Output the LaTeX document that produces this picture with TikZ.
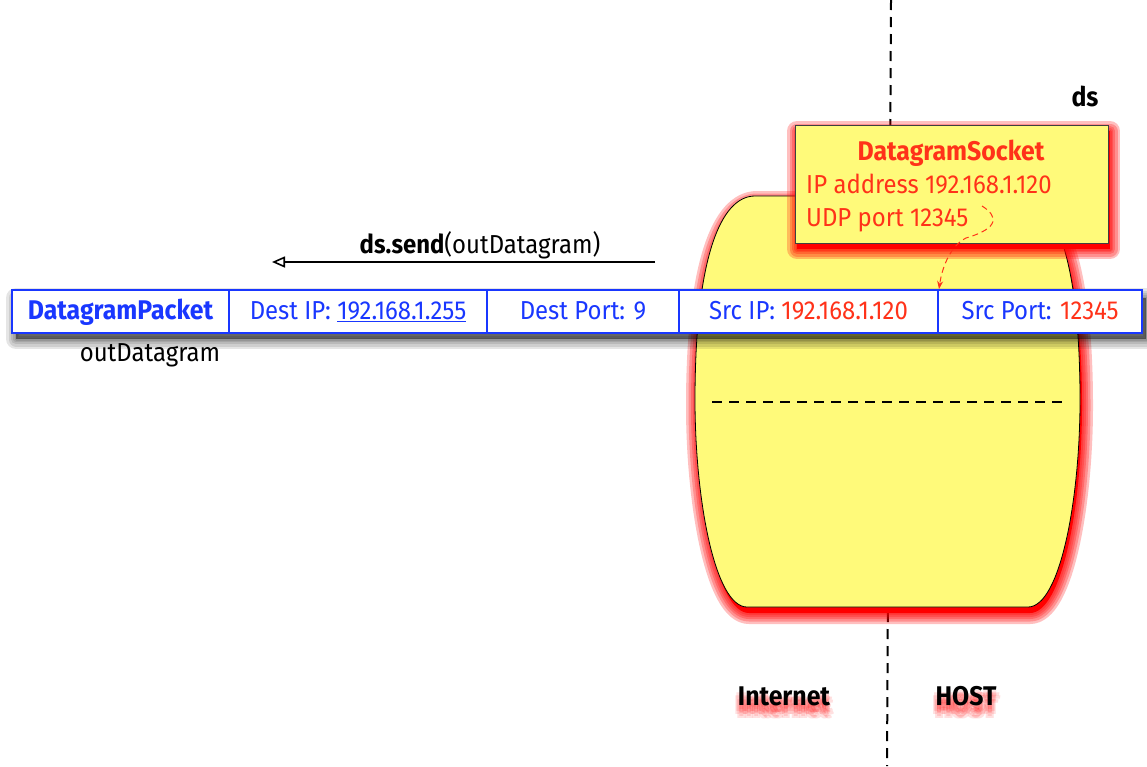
\documentclass[tikz,border=0pt]{standalone}
\usepackage{fontspec}
\setmainfont[FakeStretch=0.92]{Fira Sans}
\usetikzlibrary{arrows.meta}
\definecolor{shy}{RGB}{255,250,122}
\definecolor{sred}{RGB}{255,50,25}
\definecolor{pblue}{RGB}{25,55,255}
\def\barrel{(755,196) -- (1020,196) .. controls (1055,196) and (1080,260) .. (1080,400) .. controls (1080,500) and (1060,607) .. (1028,607) -- (747,607) .. controls (715,607) and (695,500) .. (695,400) .. controls (695,260) and (720,196) .. (755,196) -- cycle}
\tikzset{
  txt/.style={font=\fontsize{26}{30}\selectfont, inner sep=0pt},
  boldtxt/.style={font=\fontsize{27}{30}\selectfont\bfseries, inner sep=0pt},
  glowtxt/.style={boldtxt, text=red, opacity=0.12},
  cell/.style={draw=pblue, line width=2, fill=white, minimum height=43, text height=20, text depth=4, inner sep=0pt, font=\fontsize{26}{30}\selectfont, text=pblue},
}
\begin{document}
\begin{tikzpicture}[x=1pt,y=-1pt]
\useasboundingbox (0,0) rectangle (1147,766);
% divider
\coordinate (vtop) at (891,0);
\coordinate (vbot) at (887,766);
\draw[line width=2, dash pattern=on 10 off 7] (vtop) -- (vbot);
% barrel glow
\fill[red, shift={(2,6)}] \barrel;
\foreach \w in {22,17,12,8,4}
  \draw[red, line width=\w, opacity=0.25, line join=round, shift={(2,6)}] \barrel;
\draw[fill=shy, line width=0.8] \barrel;
\coordinate (hl) at (712,402);
\coordinate (hr) at (1065,402);
\draw[line width=1.6, dash pattern=on 10 off 7] (hl) -- (hr);
% socket box glow
\fill[red] (797,131) rectangle (1110,249);
\foreach \w in {20,15,10,6,3}
  \draw[red, line width=\w, opacity=0.25, line join=round] (797,131) rectangle (1110,249);
\node[draw=black!75, line width=0.8, fill=shy, minimum width=313, minimum height=118, inner sep=0pt] (sock) at (951.5,184) {};
\node[boldtxt, anchor=base, text=sred] (socktitle) at (951,160) {DatagramSocket};
\node[txt, anchor=base west, text=sred] (sockip) at (806,193) {IP address 192.168.1.120};
\node[txt, anchor=base west, text=sred] (sockport) at (806,226) {UDP port 12345};
\node[boldtxt, anchor=base] (ds) at (1085,106) {ds};
% packet shadow
\fill[black, opacity=0.45] (16,298) rectangle (1146,339);
\foreach \w in {20,15,10,6,3}
  \draw[black, line width=\w, opacity=0.1, line join=round] (16,298) rectangle (1146,339);
% packet row
\node[cell, minimum width=217, font=\fontsize{27}{30}\selectfont\bfseries] (c1) at (120.5,311.5) {DatagramPacket};
\node[cell, minimum width=258] (c2) at (358,311.5) {Dest IP: \underline{192.168.1.255}};
\node[cell, minimum width=192] (c3) at (583,311.5) {Dest Port: 9};
\node[cell, minimum width=259] (c4) at (808.5,311.5) {Src IP: \textcolor{sred}{192.168.1.120}};
\node[cell, minimum width=204] (c5) at (1040,311.5) {Src Port: \textcolor{sred}{12345}};
\node[txt, anchor=base] (outd) at (150,361) {outDatagram};
% send arrow
\coordinate (sendA) at (655,262);
\coordinate (sendB) at (272,262);
\draw[-{Triangle[open,length=13,width=11]}, line width=1.6] (sendA) -- (sendB);
\node[txt, anchor=base] (send) at (480,253) {\textbf{ds.send}(outDatagram)};
% red dashed arrow
\coordinate (rs) at (982,206);
\draw[sred, line width=1, dash pattern=on 6 off 4, -{Stealth[length=8,width=6]}] (rs) .. controls (998,216) and (1000,228) .. (966,238) .. controls (950,246) and (942,268) .. (c4.north east);
% bottom labels with blurred red shadow
\foreach \dx/\dy [count=\i] in {0/4,3/6,-3/6,0/8,4/9,-4/9,0/11,2/13,-2/13,0/7}{
  \node[glowtxt, anchor=base] (gi\i) at (784+\dx,705+\dy) {Internet};
  \node[glowtxt, anchor=base] (gh\i) at (966+\dx,705+\dy) {HOST};
}
\node[boldtxt, anchor=base] (inet) at (784,705) {Internet};
\node[boldtxt, anchor=base] (host) at (966,705) {HOST};
\end{tikzpicture}
\end{document}
